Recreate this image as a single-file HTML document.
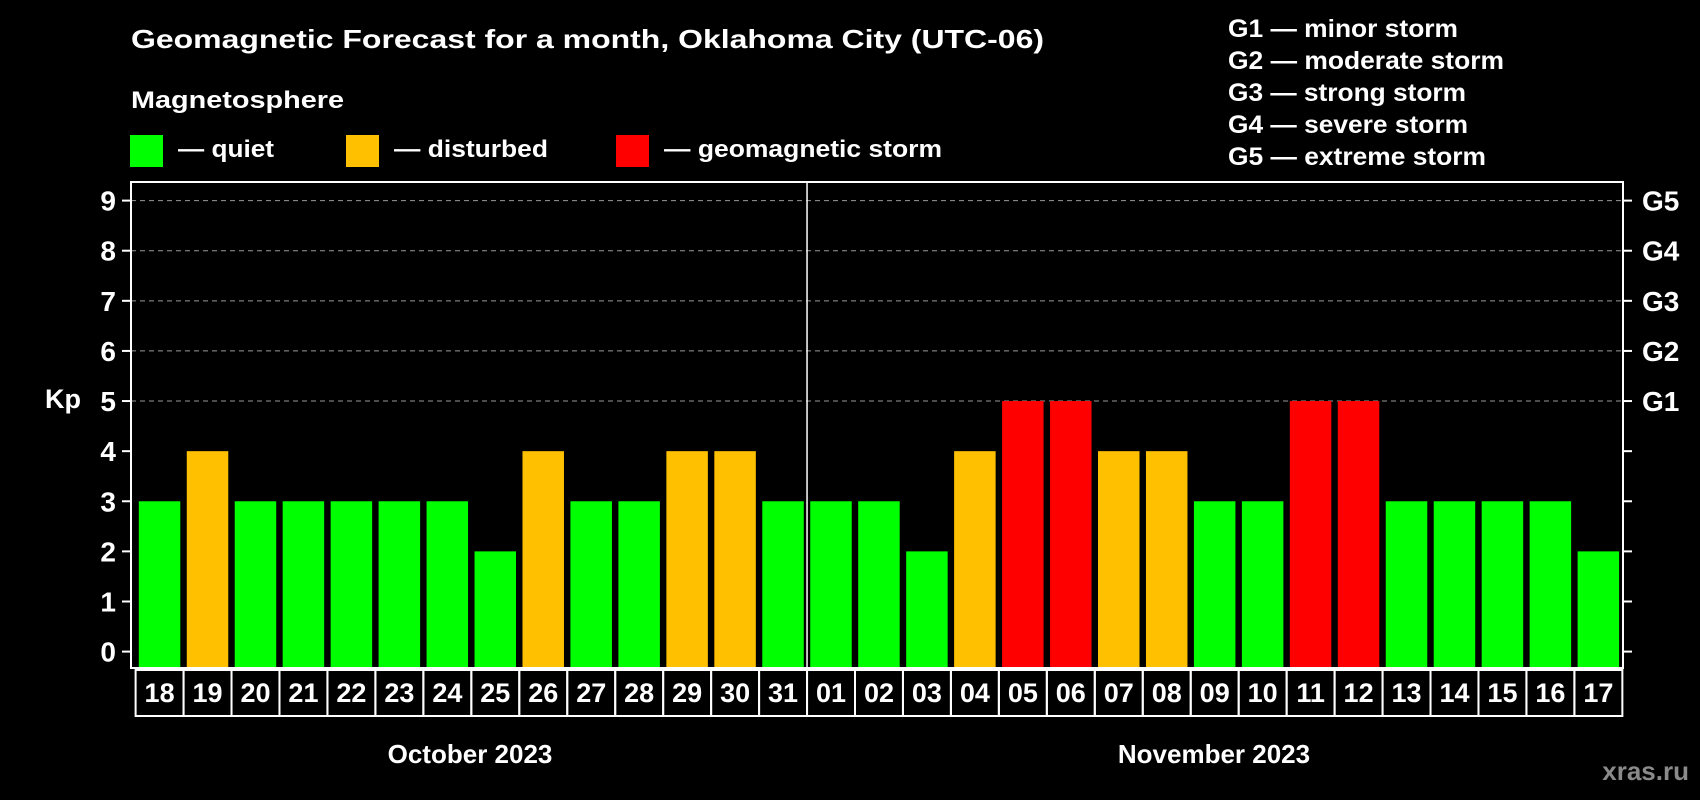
<!DOCTYPE html>
<html><head><meta charset="utf-8"><style>
html,body{margin:0;padding:0;background:#000;}
svg{display:block;font-family:"Liberation Sans",sans-serif;font-weight:bold;}
</style></head><body>
<svg id="chart" width="1700" height="800" viewBox="0 0 1700 800" xmlns="http://www.w3.org/2000/svg">
<rect width="1700" height="800" fill="#000"/>
<text x="131" y="48" fill="#fff" font-size="26" textLength="913" lengthAdjust="spacingAndGlyphs">Geomagnetic Forecast for a month, Oklahoma City (UTC-06)</text>
<text x="131" y="108" fill="#fff" font-size="24" textLength="213" lengthAdjust="spacingAndGlyphs">Magnetosphere</text>
<rect x="130" y="135" width="33" height="32" fill="#00ff00"/>
<text x="178" y="157" fill="#fff" font-size="24" textLength="96" lengthAdjust="spacingAndGlyphs">— quiet</text>
<rect x="346" y="135" width="33" height="32" fill="#ffc000"/>
<text x="394" y="157" fill="#fff" font-size="24" textLength="154" lengthAdjust="spacingAndGlyphs">— disturbed</text>
<rect x="616" y="135" width="33" height="32" fill="#ff0000"/>
<text x="664" y="157" fill="#fff" font-size="24" textLength="278" lengthAdjust="spacingAndGlyphs">— geomagnetic storm</text>
<g fill="#fff" font-size="25">
<text x="1228" y="37" textLength="230" lengthAdjust="spacingAndGlyphs">G1 — minor storm</text>
<text x="1228" y="69" textLength="276" lengthAdjust="spacingAndGlyphs">G2 — moderate storm</text>
<text x="1228" y="101" textLength="238" lengthAdjust="spacingAndGlyphs">G3 — strong storm</text>
<text x="1228" y="133" textLength="240" lengthAdjust="spacingAndGlyphs">G4 — severe storm</text>
<text x="1228" y="165" textLength="258" lengthAdjust="spacingAndGlyphs">G5 — extreme storm</text>
</g>
<text x="63" y="408" fill="#fff" font-size="27" text-anchor="middle">Kp</text>
<text x="470" y="763" fill="#fff" font-size="26" text-anchor="middle">October 2023</text>
<text x="1214" y="763" fill="#fff" font-size="26" text-anchor="middle">November 2023</text>
<text x="1689" y="780" fill="#8a8a8a" font-size="26" text-anchor="end">xras.ru</text>
<g id="plot"></g>
</svg>
<script>
const days = ["18","19","20","21","22","23","24","25","26","27","28","29","30","31","01","02","03","04","05","06","07","08","09","10","11","12","13","14","15","16","17"];
const kpValues = [3,4,3,3,3,3,3,2,4,3,3,4,4,3,3,3,2,4,5,5,4,4,3,3,5,5,3,3,3,3,2];
const yTicks = [0,1,2,3,4,5,6,7,8,9];
const gLabels = ["","","","","","G1","G2","G3","G4","G5"];
const octoberCount = 14;

const NS = "http://www.w3.org/2000/svg";
const g = document.getElementById("plot");
const L = 131, R = 1623, T = 182, B = 668;
const x0 = 138.8, pitch = 47.96, bw = 41.5;
function y(v){ return 651.6 - v * (651.6 - 200.6) / 9; }
function xb(i){ return x0 + i * pitch; }
function color(v){ return v >= 5 ? "#ff0000" : v >= 4 ? "#ffc000" : "#00ff00"; }
function mk(tag, attrs){ const e = document.createElementNS(NS, tag); for (const k in attrs) e.setAttribute(k, attrs[k]); g.appendChild(e); return e; }

yTicks.forEach((t) => {
  const yy = y(t);
  if (t >= 5) {
    const gl = mk("line", {x1:L, x2:R, y1:yy, y2:yy, stroke:"#999", "stroke-width":1, "stroke-dasharray":"5,4"});
    
    
  }
  const tl = mk("line", {x1:L-9, x2:L, y1:yy, y2:yy, stroke:"#fff", "stroke-width":2});
  
  
  const tr = mk("line", {x1:R, x2:R+9, y1:yy, y2:yy, stroke:"#fff", "stroke-width":2});
  
  
  const lab = mk("text", {x:116, y:yy+10, fill:"#fff", "font-size":28, "text-anchor":"end"});
  lab.textContent = t;
  
  
  if (gLabels[t]) {
    const gt = mk("text", {x:1642, y:yy+10, fill:"#fff", "font-size":28});
    gt.textContent = gLabels[t];
    
    
  }
});

kpValues.forEach((v, i) => {
  const r = mk("rect", {x:xb(i), y:y(v), width:bw, height:B - y(v), fill:color(v)});
  
  
});

const frame = mk("path", {d:`M${L},${T} H${R} V${B} H${L} Z`, fill:"none", stroke:"#fff", "stroke-width":2});


const dv = xb(octoberCount) - 3.2;
const div = mk("line", {x1:dv, x2:dv, y1:T, y2:B, stroke:"#fff", "stroke-width":1.5});



days.forEach((d, i) => {
  const bx = xb(i) - 3.2;
  const box = mk("rect", {x:bx, y:670, width:pitch, height:46, fill:"none", stroke:"#fff", "stroke-width":2});
  
  
  const t = mk("text", {x:bx + pitch/2, y:702, fill:"#fff", "font-size":27, "text-anchor":"middle"});
  t.textContent = d;
  
  
});
</script>
</body></html>
